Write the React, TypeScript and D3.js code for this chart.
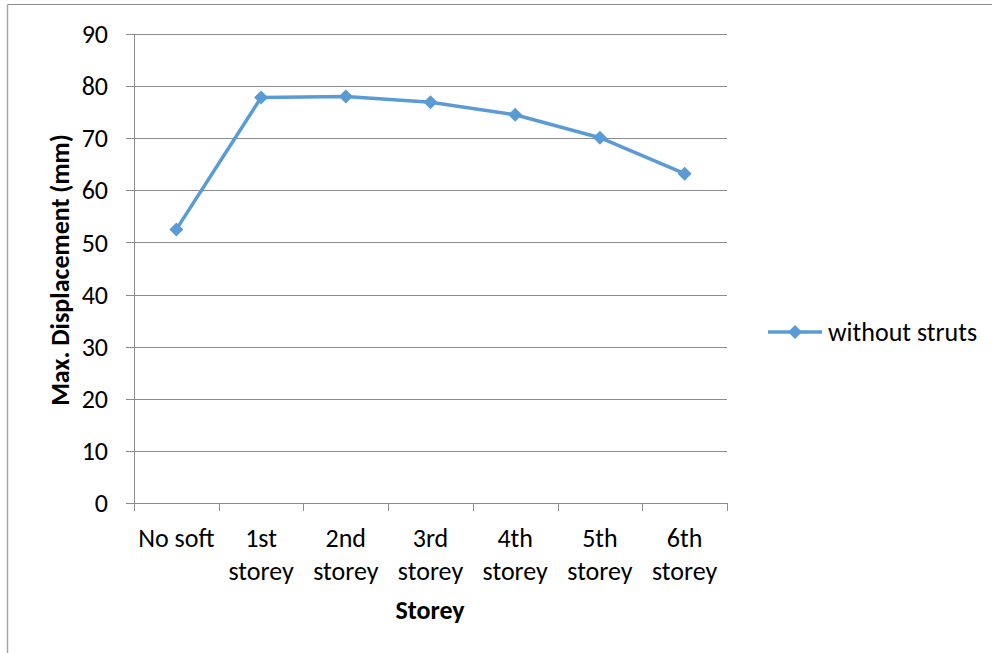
import React from "react";
import * as d3 from "d3";

const categories: string[][] = [
  ["No soft"],
  ["1st", "storey"],
  ["2nd", "storey"],
  ["3rd", "storey"],
  ["4th", "storey"],
  ["5th", "storey"],
  ["6th", "storey"],
];
const withoutStruts: number[] = [52.5, 77.8, 78.0, 76.9, 74.5, 70.1, 63.2];
const yTicks: number[] = [0, 10, 20, 30, 40, 50, 60, 70, 80, 90];
const seriesName = "without struts";
const xTitle = "Storey";
const yTitle = "Max. Displacement (mm)";

const W = 992;
const H = 653;
const plot = { left: 134, right: 727, top: 34, bottom: 503 };
const FONT = "Carlito, Calibri, 'Open Sans', 'Liberation Sans', sans-serif";
const BLUE = "#5B9BD5";
const FS = 26;

export default function App() {
  const x = d3
    .scaleBand<number>()
    .domain(categories.map((_, i) => i))
    .range([plot.left, plot.right]);
  const y = d3.scaleLinear().domain([0, 90]).range([plot.bottom, plot.top]);

  const line = d3
    .line<number>()
    .x((_, i) => (x(i) as number) + x.bandwidth() / 2)
    .y((d) => y(d));

  const diamond = (cx: number, cy: number, r = 7) =>
    `M${cx},${cy - r}L${cx + r},${cy}L${cx},${cy + r}L${cx - r},${cy}Z`;

  const boundaries = categories.map((_, i) => x(i) as number).concat([plot.right]);

  return (
    <svg
      width={W}
      height={H}
      style={{ position: "absolute", left: 0, top: 0, background: "#fff" }}
      fontFamily={FONT}
    >
      {/* outer frame */}
      <line x1={7.5} x2={W} y1={4.5} y2={4.5} stroke="#8a8a8a" strokeWidth={1.2} />
      <line x1={7.5} x2={7.5} y1={4.5} y2={H} stroke="#a6a6a6" strokeWidth={1.5} />

      {/* gridlines and y ticks */}
      {yTicks.map((t) => (
        <g key={t}>
          <line
            x1={plot.left - 8}
            x2={plot.right}
            y1={Math.round(y(t)) + 0.5}
            y2={Math.round(y(t)) + 0.5}
            stroke="#8c8c8c"
            strokeWidth={1}
          />
          <text
            x={108}
            y={y(t)}
            dy="0.35em"
            textAnchor="end"
            fontSize={FS}
            fill="#000"
          >
            {t}
          </text>
        </g>
      ))}

      {/* y axis */}
      <line
        x1={plot.left + 0.5}
        x2={plot.left + 0.5}
        y1={plot.top}
        y2={plot.bottom}
        stroke="#8c8c8c"
      />
      {/* x axis ticks */}
      {boundaries.map((b, i) => (
        <line
          key={i}
          x1={Math.round(b) + 0.5}
          x2={Math.round(b) + 0.5}
          y1={plot.bottom}
          y2={plot.bottom + 8}
          stroke="#8c8c8c"
        />
      ))}

      {/* category labels */}
      {categories.map((lines, i) => (
        <text
          key={i}
          x={(x(i) as number) + x.bandwidth() / 2}
          y={547}
          textAnchor="middle"
          fontSize={FS}
          fill="#000"
        >
          {lines.map((l, j) => (
            <tspan key={j} x={(x(i) as number) + x.bandwidth() / 2} dy={j === 0 ? 0 : 33}>
              {l}
            </tspan>
          ))}
        </text>
      ))}

      {/* axis titles */}
      <text x={430} y={619} textAnchor="middle" fontSize={FS} fontWeight="bold">
        {xTitle}
      </text>
      <text
        transform={`translate(69,270) rotate(-90)`}
        textAnchor="middle"
        fontSize={FS}
        fontWeight="bold"
      >
        {yTitle}
      </text>

      {/* series */}
      <path d={line(withoutStruts) ?? ""} fill="none" stroke={BLUE} strokeWidth={3.5} strokeLinejoin="round" />
      {withoutStruts.map((v, i) => (
        <path key={i} d={diamond((x(i) as number) + x.bandwidth() / 2, y(v))} fill={BLUE} />
      ))}

      {/* legend */}
      <line x1={768} x2={822} y1={332} y2={332} stroke={BLUE} strokeWidth={3.5} />
      <path d={diamond(795, 332)} fill={BLUE} />
      <text x={828} y={332} dy="0.35em" fontSize={FS}>
        {seriesName}
      </text>
    </svg>
  );
}
